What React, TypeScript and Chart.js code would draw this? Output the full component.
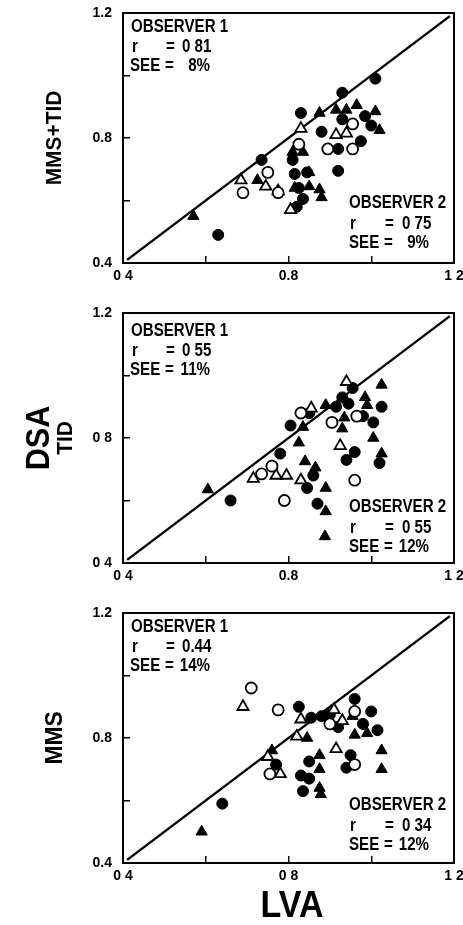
import React, { useEffect, useRef } from "react";
import { Chart, registerables } from "chart.js";

Chart.register(...registerables);

// ---------- shared axis data ----------
const AXIS_MIN = 0.4;
const AXIS_MAX = 1.2;
const TICK_VALUES = [0.4, 0.6, 0.8, 1.0, 1.2];
const IDENTITY_ENDS = [0.41, 1.19];

// ---------- panel 1: MMS+TID ----------
const P1_FILLED_CIRCLE_X = [0.63, 0.735, 0.83, 0.88, 0.93, 1.01, 0.93, 0.92, 0.92, 0.975, 1.0, 0.985, 0.81, 0.815, 0.825, 0.835, 0.845, 0.82];
const P1_FILLED_CIRCLE_Y = [0.49, 0.73, 0.88, 0.82, 0.945, 0.99, 0.86, 0.765, 0.695, 0.79, 0.84, 0.87, 0.73, 0.685, 0.64, 0.605, 0.69, 0.58];
const P1_FILLED_TRI_X = [0.57, 0.725, 0.875, 0.915, 0.965, 1.01, 1.02, 0.81, 0.835, 0.85, 0.85, 0.875, 0.88, 0.815, 0.94];
const P1_FILLED_TRI_Y = [0.55, 0.665, 0.88, 0.89, 0.905, 0.885, 0.825, 0.755, 0.755, 0.69, 0.645, 0.635, 0.61, 0.64, 0.89];
const P1_OPEN_CIRCLE_X = [0.69, 0.75, 0.775, 0.825, 0.895, 0.955, 0.955];
const P1_OPEN_CIRCLE_Y = [0.625, 0.69, 0.625, 0.78, 0.765, 0.765, 0.845];
const P1_OPEN_TRI_X = [0.685, 0.745, 0.775, 0.805, 0.83, 0.915, 0.94];
const P1_OPEN_TRI_Y = [0.665, 0.645, 0.63, 0.57, 0.83, 0.81, 0.815];
const P1_X_LABELS = ["0 4", "", "0.8", "", "1 2"];
const P1_Y_LABELS = ["0.4", "", "0.8", "", "1.2"];

// ---------- panel 2: TID ----------
const P2_FILLED_CIRCLE_X = [0.66, 0.78, 0.805, 0.845, 0.87, 0.86, 0.915, 0.93, 0.955, 0.945, 0.98, 1.005, 1.025, 1.02, 0.94, 0.96, 0.85];
const P2_FILLED_CIRCLE_Y = [0.6, 0.75, 0.84, 0.64, 0.59, 0.68, 0.9, 0.93, 0.96, 0.91, 0.87, 0.85, 0.9, 0.72, 0.73, 0.755, 0.88];
const P2_FILLED_TRI_X = [0.605, 0.825, 0.835, 0.84, 0.865, 0.89, 0.89, 0.888, 0.93, 0.935, 0.985, 0.99, 1.005, 1.025, 1.025, 0.89];
const P2_FILLED_TRI_Y = [0.635, 0.785, 0.835, 0.725, 0.705, 0.64, 0.565, 0.485, 0.83, 0.865, 0.93, 0.905, 0.8, 0.97, 0.75, 0.905];
const P2_OPEN_CIRCLE_X = [0.735, 0.76, 0.79, 0.83, 0.905, 0.96, 0.965];
const P2_OPEN_CIRCLE_Y = [0.685, 0.71, 0.6, 0.88, 0.85, 0.665, 0.87];
const P2_OPEN_TRI_X = [0.715, 0.77, 0.795, 0.83, 0.855, 0.94, 0.925];
const P2_OPEN_TRI_Y = [0.67, 0.68, 0.68, 0.665, 0.895, 0.98, 0.775];
const P2_X_LABELS = ["0 4", "", "0.8", "", "1 2"];
const P2_Y_LABELS = ["0 4", "", "0 8", "", "1.2"];

// ---------- panel 3: MMS ----------
const P3_FILLED_CIRCLE_X = [0.64, 0.77, 0.825, 0.855, 0.835, 0.83, 0.85, 0.85, 0.9, 0.92, 0.96, 0.98, 1.0, 1.015, 0.95, 0.94, 0.88];
const P3_FILLED_CIRCLE_Y = [0.59, 0.715, 0.9, 0.865, 0.63, 0.68, 0.67, 0.725, 0.875, 0.835, 0.925, 0.845, 0.885, 0.825, 0.745, 0.705, 0.87];
const P3_FILLED_TRI_X = [0.59, 0.76, 0.845, 0.875, 0.875, 0.875, 0.878, 0.96, 0.99, 1.025, 1.025, 0.955];
const P3_FILLED_TRI_Y = [0.5, 0.76, 0.8, 0.745, 0.7, 0.64, 0.62, 0.81, 0.815, 0.76, 0.7, 0.87];
const P3_OPEN_CIRCLE_X = [0.71, 0.775, 0.755, 0.9, 0.96, 0.96];
const P3_OPEN_CIRCLE_Y = [0.96, 0.89, 0.685, 0.845, 0.715, 0.885];
const P3_OPEN_TRI_X = [0.69, 0.75, 0.78, 0.82, 0.83, 0.915, 0.93, 0.91];
const P3_OPEN_TRI_Y = [0.9, 0.74, 0.685, 0.805, 0.86, 0.765, 0.855, 0.89];
const P3_X_LABELS = ["0 4", "", "0 8", "", "1 2"];
const P3_Y_LABELS = ["0.4", "", "0.8", "", "1.2"];

// ---------- statistics text ----------
const OBS1_R = ["0 81", "0 55", "0.44"];
const OBS1_SEE = ["8%", "11%", "14%"];
const OBS2_R = ["0 75", "0 55", "0 34"];
const OBS2_SEE = ["9%", "12%", "12%"];
const PANEL_TITLES = ["MMS+TID", "TID", "MMS"];
const MAIN_Y_TITLE = "DSA";
const X_TITLE = "LVA";

// ---------- layout (not data) ----------
const W = 463;
const PLOT_LEFT = 123;
const PLOT_RIGHT = 454;
const PLOT_TOP = 13;
const PLOT_BOTTOM = 263;
const FONT = '"Liberation Sans", Arial, Helvetica, sans-serif';

const pts = (xs: number[], ys: number[]) => xs.map((x, i) => ({ x, y: ys[i] }));

const PANELS = [
  {
    top: 0, h: 300,
    fc: pts(P1_FILLED_CIRCLE_X, P1_FILLED_CIRCLE_Y), ft: pts(P1_FILLED_TRI_X, P1_FILLED_TRI_Y),
    oc: pts(P1_OPEN_CIRCLE_X, P1_OPEN_CIRCLE_Y), ot: pts(P1_OPEN_TRI_X, P1_OPEN_TRI_Y),
    xl: P1_X_LABELS, yl: P1_Y_LABELS, obs1Dy: 0, obs2Dy: 0,
  },
  {
    top: 300, h: 300,
    fc: pts(P2_FILLED_CIRCLE_X, P2_FILLED_CIRCLE_Y), ft: pts(P2_FILLED_TRI_X, P2_FILLED_TRI_Y),
    oc: pts(P2_OPEN_CIRCLE_X, P2_OPEN_CIRCLE_Y), ot: pts(P2_OPEN_TRI_X, P2_OPEN_TRI_Y),
    xl: P2_X_LABELS, yl: P2_Y_LABELS, obs1Dy: 4, obs2Dy: 4,
  },
  {
    top: 600, h: 325,
    fc: pts(P3_FILLED_CIRCLE_X, P3_FILLED_CIRCLE_Y), ft: pts(P3_FILLED_TRI_X, P3_FILLED_TRI_Y),
    oc: pts(P3_OPEN_CIRCLE_X, P3_OPEN_CIRCLE_Y), ot: pts(P3_OPEN_TRI_X, P3_OPEN_TRI_Y),
    xl: P3_X_LABELS, yl: P3_Y_LABELS, obs1Dy: 0, obs2Dy: 2,
  },
];

function txt(
  ctx: CanvasRenderingContext2D, s: string, x: number, y: number, size: number, sx: number,
  align: CanvasTextAlign = "left", rot = 0, baseline: CanvasTextBaseline = "alphabetic"
) {
  ctx.save();
  ctx.translate(x, y);
  if (rot) ctx.rotate(rot);
  ctx.scale(sx, 1);
  ctx.font = `bold ${size}px ${FONT}`;
  ctx.textAlign = align;
  ctx.textBaseline = baseline;
  ctx.fillStyle = "#000";
  ctx.fillText(s, 0, 0);
  ctx.restore();
}

const zeroPad = (s: any) => {
  s.paddingLeft = 0;
  s.paddingRight = 0;
  s.paddingTop = 0;
  s.paddingBottom = 0;
};

function makeChart(canvas: HTMLCanvasElement, p: any, idx: number) {
  const framePlugin = {
    id: "frame" + idx,
    beforeDatasetsDraw(chart: any) {
      const { ctx, chartArea: a } = chart;
      ctx.save();
      ctx.strokeStyle = "#000";
      ctx.lineWidth = 2;
      ctx.strokeRect(a.left, a.top, a.right - a.left, a.bottom - a.top);
      ctx.restore();
    },
    afterDraw(chart: any) {
      const { ctx, chartArea: a } = chart;
      const fs = 18, sx = 0.84;
      // Observer 1 block
      const l1 = a.left + 8, t1 = a.top + p.obs1Dy;
      txt(ctx, "OBSERVER 1", l1, t1 + 19, fs, sx);
      txt(ctx, "r", l1 + 1, t1 + 39, fs, sx);
      txt(ctx, "=", l1 + 35, t1 + 39, fs, sx);
      txt(ctx, OBS1_R[idx], l1 + 51, t1 + 39, fs, sx);
      txt(ctx, "SEE", l1 - 1, t1 + 58, fs, sx);
      txt(ctx, "=", l1 + 34, t1 + 58, fs, sx);
      txt(ctx, OBS1_SEE[idx], l1 + 79, t1 + 58, fs, sx, "right");
      // Observer 2 block
      const l2 = a.left + 226, t2 = a.top + p.obs2Dy;
      txt(ctx, "OBSERVER 2", l2, t2 + 195, fs, sx);
      txt(ctx, "r", l2 + 1, t2 + 216, fs, sx);
      txt(ctx, "=", l2 + 36, t2 + 216, fs, sx);
      txt(ctx, OBS2_R[idx], l2 + 53, t2 + 216, fs, sx);
      txt(ctx, "SEE", l2, t2 + 235, fs, sx);
      txt(ctx, "=", l2 + 35, t2 + 235, fs, sx);
      txt(ctx, OBS2_SEE[idx], l2 + 80, t2 + 235, fs, sx, "right");
      // y titles
      const cy = (a.top + a.bottom) / 2;
      if (idx === 1) {
        txt(ctx, MAIN_Y_TITLE, 40, cy, 34, 0.9, "center", -Math.PI / 2, "middle");
        txt(ctx, PANEL_TITLES[idx], 66, cy, 22, 0.95, "center", -Math.PI / 2, "middle");
      } else {
        txt(ctx, PANEL_TITLES[idx], 55, cy, idx === 0 ? 22 : 24, 0.95, "center", -Math.PI / 2, "middle");
      }
      if (idx === 2) {
        txt(ctx, X_TITLE, 292, a.bottom + 54, 37, 0.92, "center");
      }
    },
  };

  const tickFont = { family: FONT, size: 14, weight: "bold" as const };

  return new Chart(canvas, {
    type: "scatter",
    data: {
      datasets: [
        { data: p.oc, pointStyle: "circle", pointRadius: 5.5, backgroundColor: "#fff", borderColor: "#000", borderWidth: 1.8, order: 1 },
        { data: p.ot, pointStyle: "triangle", pointRadius: 6.5, backgroundColor: "#fff", borderColor: "#000", borderWidth: 1.8, order: 2 },
        { data: p.fc, pointStyle: "circle", pointRadius: 5.5, backgroundColor: "#000", borderColor: "#000", borderWidth: 1, order: 3 },
        { data: p.ft, pointStyle: "triangle", pointRadius: 6.5, backgroundColor: "#000", borderColor: "#000", borderWidth: 1, order: 4 },
        {
          data: IDENTITY_ENDS.map((v) => ({ x: v, y: v })),
          showLine: true, pointRadius: 0, borderColor: "#000", borderWidth: 2.5, order: 10,
        },
      ],
    },
    options: {
      animation: false,
      responsive: false,
      devicePixelRatio: 1,
      events: [],
      layout: { padding: { left: 0, right: W - PLOT_RIGHT, top: PLOT_TOP, bottom: 0 } },
      plugins: { legend: { display: false }, tooltip: { enabled: false } },
      scales: {
        x: {
          type: "linear", min: AXIS_MIN, max: AXIS_MAX,
          afterBuildTicks: (s: any) => { s.ticks = TICK_VALUES.map((v) => ({ value: v })); },
          afterFit: (s: any) => { s.height = p.h - PLOT_BOTTOM; zeroPad(s); },
          grid: { drawOnChartArea: false, drawTicks: true, tickLength: -7, color: "#000", lineWidth: 1.5 },
          border: { display: true, color: "#000", width: 2 },
          ticks: { autoSkip: false, maxRotation: 0, padding: 12, color: "#000", font: tickFont, callback: (_v: any, i: number) => p.xl[i] },
        },
        y: {
          type: "linear", min: AXIS_MIN, max: AXIS_MAX,
          afterBuildTicks: (s: any) => { s.ticks = TICK_VALUES.map((v) => ({ value: v })); },
          afterFit: (s: any) => { s.width = PLOT_LEFT; zeroPad(s); },
          grid: { drawOnChartArea: false, drawTicks: true, tickLength: -7, color: "#000", lineWidth: 1.5 },
          border: { display: true, color: "#000", width: 2 },
          ticks: { autoSkip: false, padding: 18, color: "#000", font: tickFont, callback: (_v: any, i: number) => p.yl[i] },
        },
      },
    } as any,
    plugins: [framePlugin],
  });
}

export default function App() {
  const refs = useRef<(HTMLCanvasElement | null)[]>([]);
  useEffect(() => {
    const charts = PANELS.map((p, i) => makeChart(refs.current[i] as HTMLCanvasElement, p, i));
    return () => charts.forEach((c) => c.destroy());
  }, []);
  return (
    <div style={{ position: "absolute", left: 0, top: 0, width: W, height: 925, background: "#fff" }}>
      {PANELS.map((p, i) => (
        <canvas
          key={i}
          ref={(el) => { refs.current[i] = el; }}
          width={W}
          height={p.h}
          style={{ position: "absolute", left: 0, top: p.top, width: W, height: p.h }}
        />
      ))}
    </div>
  );
}
